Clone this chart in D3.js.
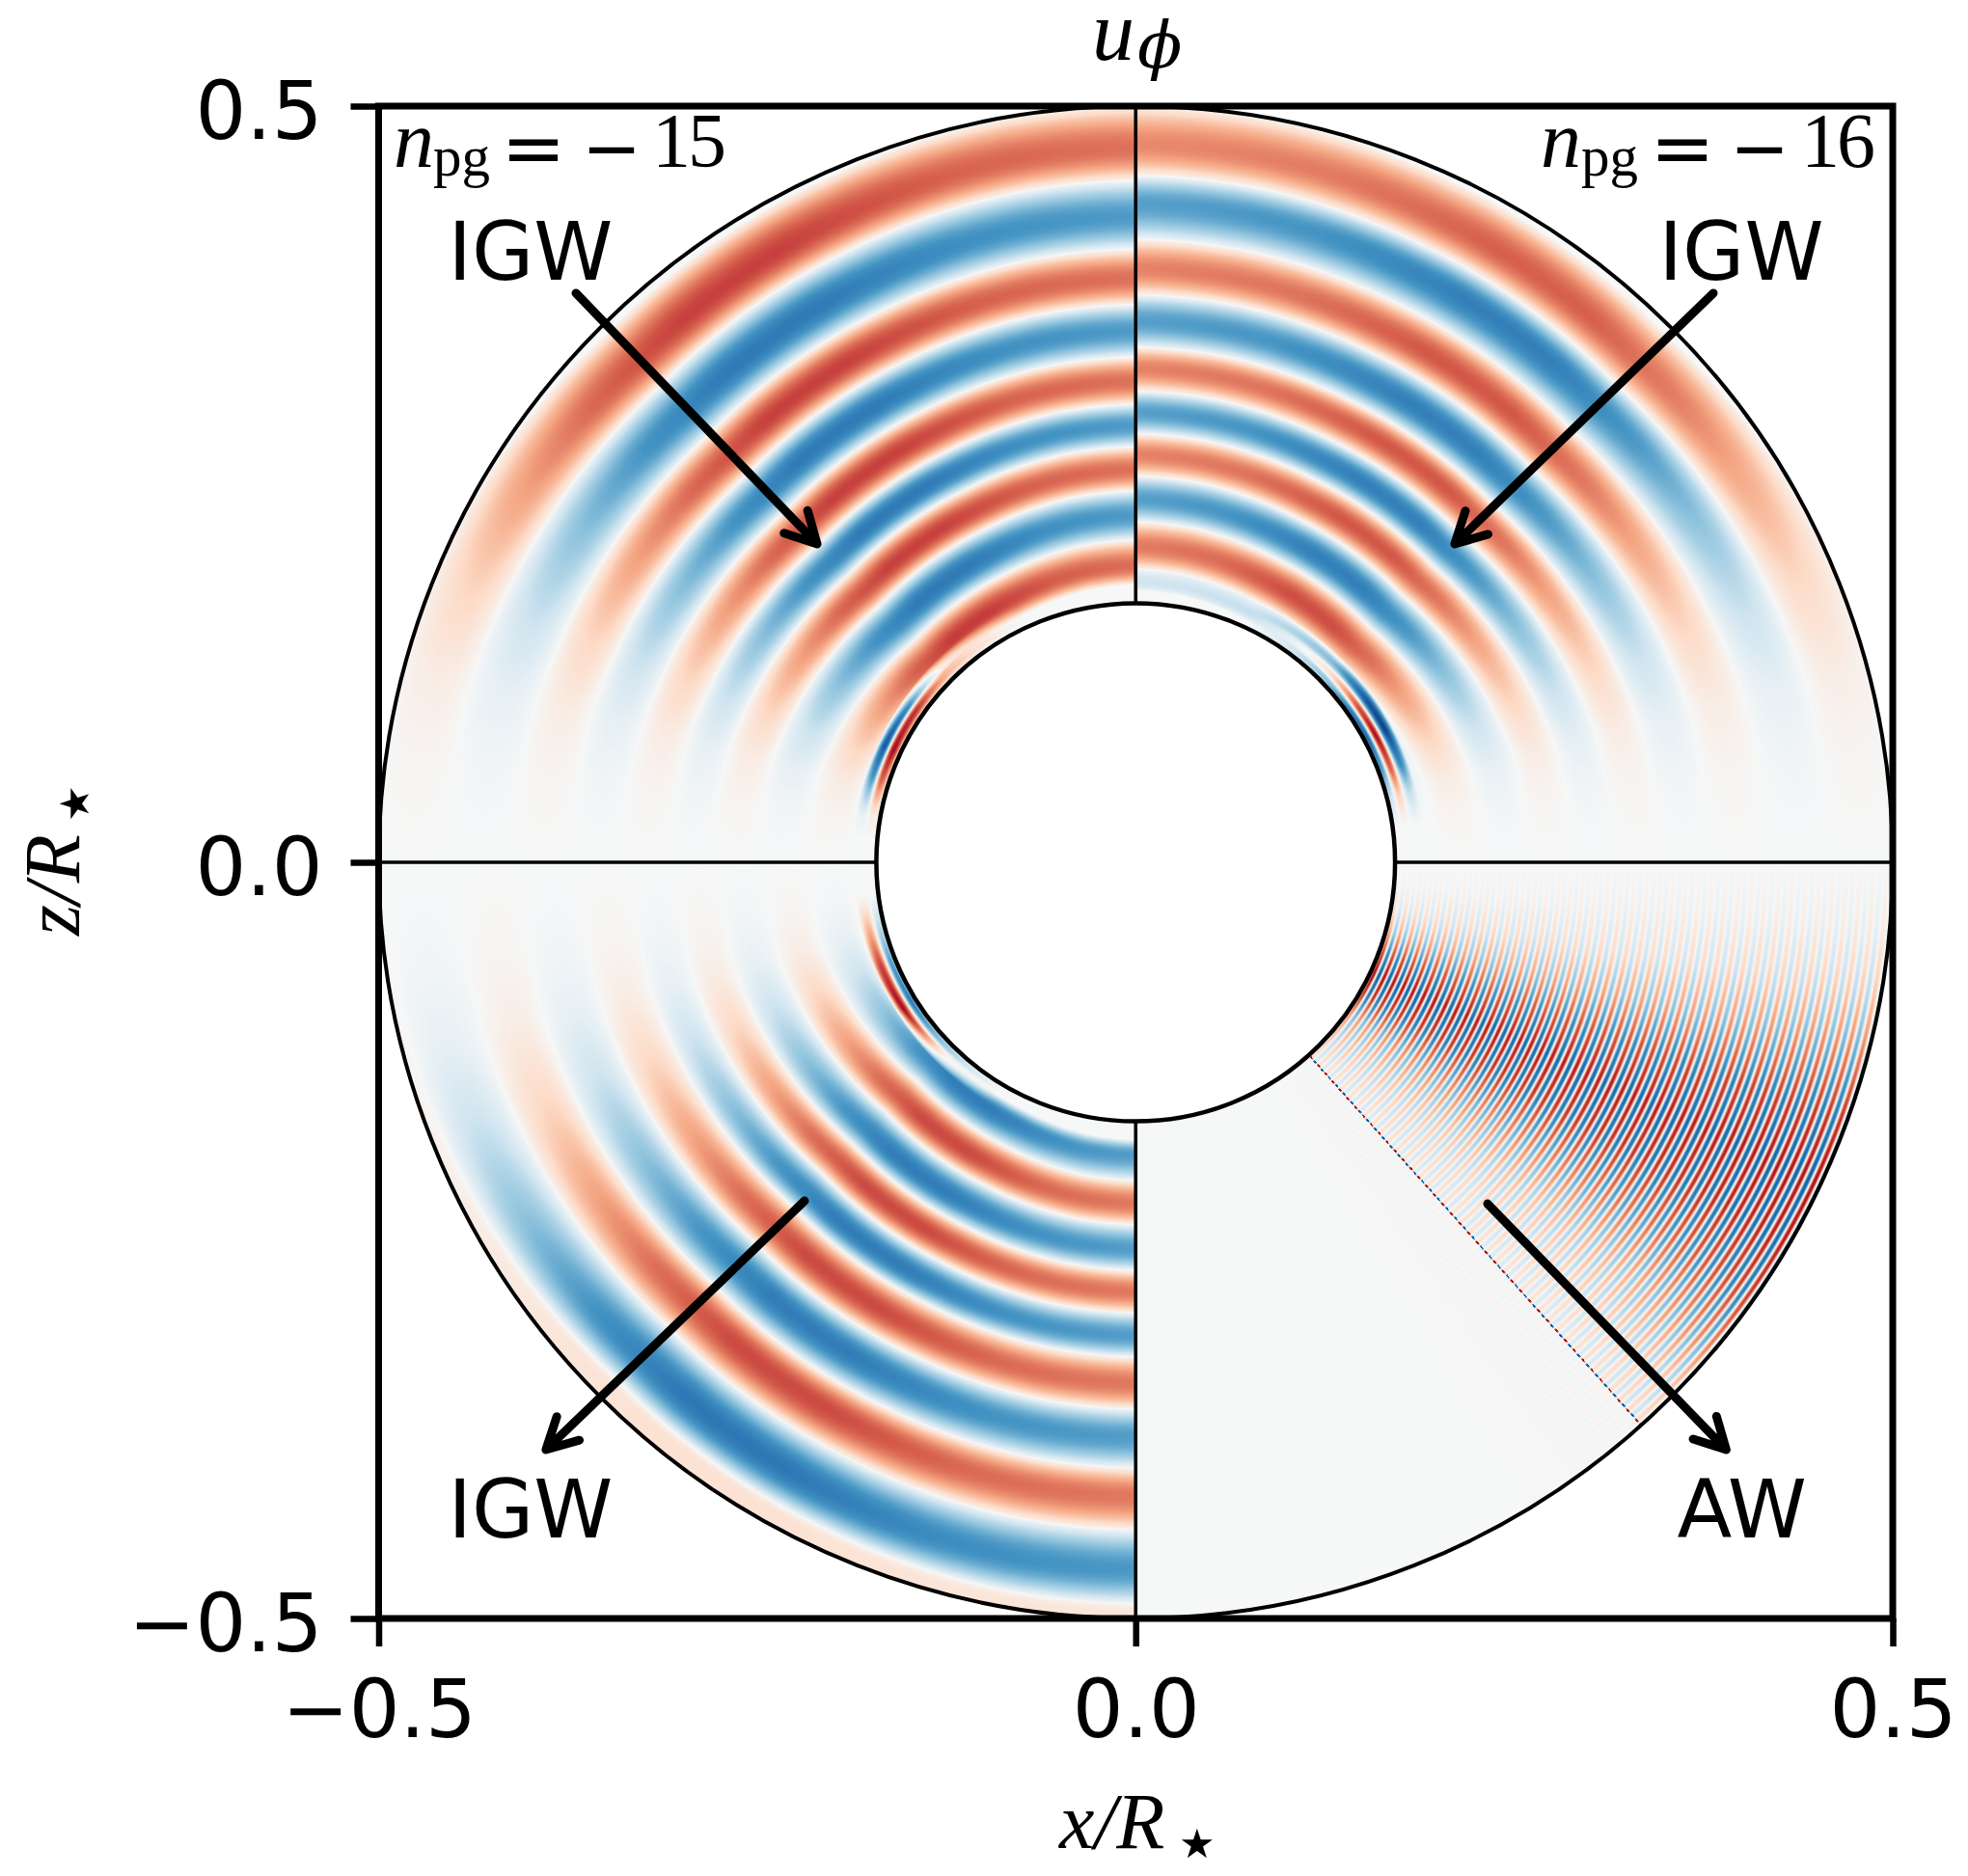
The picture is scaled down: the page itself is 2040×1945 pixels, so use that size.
<!DOCTYPE html>
<html>
<head>
<meta charset="utf-8">
<script src="https://cdn.jsdelivr.net/npm/d3@7"></script>
<style>
  html, body { margin: 0; padding: 0; background: #fff; }
  #wrap { position: relative; width: 2040px; height: 1945px; }
  #field, #chart { position: absolute; left: 0; top: 0; }
</style>
</head>
<body>
<div id="wrap">
  <canvas id="field" width="2040" height="1945"></canvas>
  <svg id="chart" width="2040" height="1945"></svg>
</div>
<script>
// tick labels
var xTicks = [-0.5, 0, 0.5];
var zTicks = [-0.5, 0, 0.5];

var innerRadius = 0.1713;
var outerRadius = 0.5;

// radial profile of u_phi read along the z axis: radius, value
var upperLeftR = [0.1713, 0.1825, 0.1835, 0.1959, 0.2132, 0.2294, 0.2456, 0.2596, 0.2748, 0.2888, 0.3028, 0.3180, 0.3341, 0.3514, 0.3687, 0.3860, 0.4054, 0.4270, 0.4507, 0.4723, 0.5005];
var upperLeftU = [0, 0, 0, 0.56, 0, -0.57, 0, 0.55, 0, -0.57, 0, 0.55, 0, -0.57, 0, 0.55, 0, -0.57, 0, 0.55, 0];

var upperRightR = [0.1713, 0.1797, 0.1852, 0.1938, 0.2089, 0.2251, 0.2402, 0.2553, 0.2694, 0.2834, 0.2975, 0.3115, 0.3266, 0.3406, 0.3579, 0.3752, 0.3924, 0.4119, 0.4356, 0.4540, 0.4745, 0.5005];
var upperRightU = [0, 0, -0.20, 0, 0.52, 0, -0.55, 0, 0.50, 0, -0.55, 0, 0.50, 0, -0.55, 0, 0.50, 0, -0.55, 0, 0.48, 0];

var lowerLeftR = [0.1713, 0.1835, 0.1932, 0.2105, 0.2256, 0.2397, 0.2558, 0.2699, 0.2839, 0.2980, 0.3131, 0.3271, 0.3444, 0.3616, 0.3800, 0.4005, 0.4189, 0.4415, 0.4675, 0.4901, 0.4966, 0.5005];
var lowerLeftU = [0, 0, -0.56, 0, 0.53, 0, -0.56, 0, 0.53, 0, -0.56, 0, 0.53, 0, -0.56, 0, 0.53, 0, -0.58, 0, 0.12, 0.12];

// how the rings fade and drift away from the z axis
var ringAngle = [0, 15, 30, 40, 50, 60, 68, 75, 82, 90];
var ringGain = [1, 1.08, 1.25, 1.25, 1.05, 0.70, 0.38, 0.15, 0.04, 0];
var driftAngle = [0, 10, 25, 45, 60, 75, 90];
var driftR = [0, -0.001, -0.004, -0.006, -0.001, 0.004, 0.005];

// thin layers hugging the inner circle
var shearLeftR = [0.172, 0.1765, 0.1795, 0.1825, 0.1875];
var shearLeftU = [0, 0.85, 0, -0.85, 0];
var shearLeftAngle = [25, 35, 45, 55, 65, 72, 80, 85];
var shearLeftGain = [0, 0.15, 0.40, 0.85, 1, 0.70, 0.10, 0];

var shearRightR = [0.1715, 0.1735, 0.1765, 0.1795, 0.1825, 0.1865, 0.1915];
var shearRightU = [0, -0.80, 0, 0.85, 0, -0.80, 0];
var shearRightAngle = [25, 35, 45, 55, 62, 70, 76, 82];
var shearRightGain = [0, 0.20, 0.45, 0.90, 1, 0.70, 0.25, 0];

var shearLowR = [0.1715, 0.1745, 0.1775, 0.1815, 0.1865];
var shearLowU = [0, -0.70, 0, 0.85, 0];
var shearLowAngle = [30, 40, 50, 58, 68, 76, 83];
var shearLowGain = [0, 0.30, 0.70, 1, 0.80, 0.40, 0];

// Alfven wave quadrant: stripe count against radius and amplitude table
var awStripeR = [0.172, 0.204, 0.299, 0.382, 0.5];
var awStripeN = [0, 4.5, 16.7, 26.4, 39.75];
var awCutAngle = 41.9;
var awAngle = [0, 30, 41.8, 42.1, 46, 50, 55, 60, 65, 70, 75, 80, 85, 90];
var awRows = [0.172, 0.25, 0.35, 0.42, 0.5];
var awAmp172 = [0, 0, 0.03, 0.13, 0.22, 0.30, 0.44, 0.72, 0.85, 0.66, 0.36, 0.14, 0.03, 0];
var awAmp250 = [0, 0, 0.03, 0.13, 0.20, 0.30, 0.49, 0.72, 0.81, 0.62, 0.36, 0.16, 0.04, 0];
var awAmp350 = [0, 0, 0.03, 0.13, 0.20, 0.30, 0.53, 0.74, 0.81, 0.66, 0.40, 0.18, 0.06, 0];
var awAmp420 = [0, 0, 0.03, 0.13, 0.22, 0.35, 0.57, 0.75, 0.81, 0.70, 0.45, 0.22, 0.07, 0];
var awAmp500 = [0, 0, 0.03, 0.19, 0.30, 0.52, 0.72, 0.81, 0.85, 0.74, 0.53, 0.28, 0.09, 0];
var awAmps = [awAmp172, awAmp250, awAmp350, awAmp420, awAmp500];

// RdBu_r stops, low to high
var rdbuStops = ["#053061", "#2166ac", "#4393c3", "#92c5de", "#d1e5f0", "#f6f7f7", "#fddbc7", "#f4a582", "#d6604d", "#b2182b", "#67001f"];

// annotations: label, arrow tail and tip in data units
var arrowLabels = ["IGW", "IGW", "IGW", "AW"];
var labelX = [-0.3997, 0.4000, -0.3997, 0.4004];
var labelZ = [0.3852, 0.3852, -0.4464, -0.4464];
var tailX = [-0.3697, 0.3815, -0.2187, 0.2324];
var tailZ = [0.3763, 0.3763, -0.2239, -0.2258];
var tipX = [-0.2104, 0.2107, -0.3895, 0.3900];
var tipZ = [0.2105, 0.2105, -0.3884, -0.3884];

var x = d3.scaleLinear().domain([-0.5, 0.5]).range([392.5, 1962]);
var z = d3.scaleLinear().domain([-0.5, 0.5]).range([1678, 110]);

var colorStops = d3.scaleLinear()
    .domain(d3.range(11).map(function(i) { return -1 + i * 0.2; }))
    .range(rdbuStops);
var lut = d3.range(1025).map(function(i) {
  var c = d3.rgb(colorStops(i / 512 - 1));
  return [c.r, c.g, c.b];
});

// profile as a scale from radius to node position, rounded between a zero and a peak
function profile(rs, us) {
  var pos = d3.scaleLinear().domain(rs).range(d3.range(rs.length)).clamp(true);
  return function(r) {
    var p = pos(r);
    var i = Math.min(Math.floor(p), rs.length - 2);
    var t = p - i, a = us[i], b = us[i + 1];
    if (a === 0 && b === 0) return 0;
    if (a === 0) return b * Math.pow(Math.sin(t * Math.PI / 2), 0.8);
    if (b === 0) return a * Math.pow(Math.cos(t * Math.PI / 2), 0.8);
    return a + (b - a) * t;
  };
}

function gain(angles, values) {
  return d3.scaleLinear().domain(angles).range(values).clamp(true);
}

var upperLeft = profile(upperLeftR, upperLeftU);
var upperRight = profile(upperRightR, upperRightU);
var lowerLeft = profile(lowerLeftR, lowerLeftU);
var shearLeft = profile(shearLeftR, shearLeftU);
var shearRight = profile(shearRightR, shearRightU);
var shearLow = profile(shearLowR, shearLowU);
var ring = gain(ringAngle, ringGain);
var drift = gain(driftAngle, driftR);
var shearLeftEnv = gain(shearLeftAngle, shearLeftGain);
var shearRightEnv = gain(shearRightAngle, shearRightGain);
var shearLowEnv = gain(shearLowAngle, shearLowGain);

var stripes = d3.scaleLinear().domain(awStripeR).range(awStripeN).clamp(true);
var awRowPos = d3.scaleLinear().domain(awRows).range(d3.range(awRows.length)).clamp(true);
var awRowScales = awAmps.map(function(row) { return gain(awAngle, row); });

function fieldValue(px, pz, r, angle) {
  if (pz >= 0) {
    var shift = r - drift(angle);
    if (px < 0) return upperLeft(shift) * ring(angle) + shearLeft(r) * shearLeftEnv(angle);
    return upperRight(shift) * ring(angle) + shearRight(r) * shearRightEnv(angle);
  }
  if (px < 0) {
    return lowerLeft(r - drift(angle)) * ring(angle) + shearLow(r) * shearLowEnv(angle);
  }
  var n = stripes(r);
  // bright thread along the edge of the wave region
  var dist = Math.abs(angle - awCutAngle) * Math.PI / 180 * r * 1570;
  if (dist < 1) return 0.9 * Math.sin(2 * Math.PI * n);
  var q = awRowPos(r);
  var k = Math.min(Math.floor(q), awRows.length - 2);
  var amp = awRowScales[k](angle) * (1 - q + k) + awRowScales[k + 1](angle) * (q - k);
  return amp * Math.sin(2 * Math.PI * n);
}

var canvas = document.getElementById("field");
var ctx = canvas.getContext("2d");
var image = ctx.createImageData(canvas.width, canvas.height);
for (var py = Math.floor(z(0.5)); py <= Math.ceil(z(-0.5)); py++) {
  for (var px = Math.floor(x(-0.5)); px <= Math.ceil(x(0.5)); px++) {
    var dx = x.invert(px + 0.5), dz = z.invert(py + 0.5);
    var r = Math.sqrt(dx * dx + dz * dz);
    if (r > outerRadius || r < innerRadius) continue;
    var angle = Math.atan2(Math.abs(dx), Math.abs(dz)) * 180 / Math.PI;
    var v = fieldValue(dx, dz, r, angle);
    var c = lut[Math.max(0, Math.min(1024, Math.round((v + 1) * 512)))];
    var o = (py * canvas.width + px) * 4;
    image.data[o] = c[0];
    image.data[o + 1] = c[1];
    image.data[o + 2] = c[2];
    image.data[o + 3] = 255;
  }
}
ctx.putImageData(image, 0, 0);

var svg = d3.select("#chart");
var sans = "'DejaVu Sans', sans-serif";
var serif = "'Liberation Serif', serif";

// circles and the quadrant dividers
svg.append("ellipse")
    .attr("cx", x(0)).attr("cy", z(0))
    .attr("rx", x(outerRadius) - x(0)).attr("ry", z(0) - z(outerRadius))
    .attr("fill", "none").attr("stroke", "#000").attr("stroke-width", 4);
svg.append("ellipse")
    .attr("cx", x(0)).attr("cy", z(0))
    .attr("rx", x(innerRadius) - x(0)).attr("ry", z(0) - z(innerRadius))
    .attr("fill", "none").attr("stroke", "#000").attr("stroke-width", 4.5);
[[0, innerRadius, 0, outerRadius], [0, -innerRadius, 0, -outerRadius],
 [-innerRadius, 0, -outerRadius, 0], [innerRadius, 0, outerRadius, 0]].forEach(function(d) {
  svg.append("line")
      .attr("x1", x(d[0])).attr("y1", z(d[1]))
      .attr("x2", x(d[2])).attr("y2", z(d[3]))
      .attr("stroke", "#000").attr("stroke-width", 3.6);
});

// axes
var xAxis = d3.axisBottom(x).tickValues(xTicks).tickFormat(d3.format(".1f")).tickSize(29).tickPadding(35);
var zAxis = d3.axisLeft(z).tickValues(zTicks).tickFormat(d3.format(".1f")).tickSize(29).tickPadding(29);
var gx = svg.append("g").attr("transform", "translate(0," + z(-0.5) + ")").call(xAxis);
var gz = svg.append("g").attr("transform", "translate(" + x(-0.5) + ",0)").call(zAxis);
gx.select(".domain").remove();
gz.select(".domain").remove();
svg.selectAll(".tick line").attr("stroke", "#000").attr("stroke-width", 6.5);
svg.selectAll(".tick text")
    .attr("font-family", sans).attr("font-size", 83).attr("fill", "#000");
gz.selectAll(".tick text").attr("dy", "0.4em");

svg.append("rect")
    .attr("x", x(-0.5)).attr("y", z(0.5))
    .attr("width", x(0.5) - x(-0.5)).attr("height", z(-0.5) - z(0.5))
    .attr("fill", "none").attr("stroke", "#000").attr("stroke-width", 7);

// arrows
arrowLabels.forEach(function(label, i) {
  var x0 = x(tailX[i]), y0 = z(tailZ[i]), x1 = x(tipX[i]), y1 = z(tipZ[i]);
  var dir = Math.atan2(y0 - y1, x0 - x1);
  var spread = 28 * Math.PI / 180, len = 36;
  var line = d3.path();
  line.moveTo(x0, y0);
  line.lineTo(x1, y1);
  line.moveTo(x1 + len * Math.cos(dir - spread), y1 + len * Math.sin(dir - spread));
  line.lineTo(x1, y1);
  line.lineTo(x1 + len * Math.cos(dir + spread), y1 + len * Math.sin(dir + spread));
  svg.append("path")
      .attr("d", line.toString())
      .attr("fill", "none").attr("stroke", "#000").attr("stroke-width", 9)
      .attr("stroke-linecap", "round").attr("stroke-linejoin", "round");
  svg.append("text")
      .attr("x", x(labelX[i])).attr("y", z(labelZ[i]))
      .attr("text-anchor", "middle")
      .attr("font-family", sans).attr("font-size", 83).attr("fill", "#000")
      .text(label);
});

// math pieces placed one by one, as a math renderer would
function piece(parent, str, px, py, size, family, style) {
  return parent.append("text")
      .attr("x", px).attr("y", py)
      .attr("font-family", family).attr("font-size", size)
      .attr("font-style", style || "normal").attr("fill", "#000")
      .text(str);
}

function modeLabel(nx, pgx, eqx, minusx, digitx, digits) {
  piece(svg, "n", nx, 173, 84, serif, "italic");
  piece(svg, "pg", pgx, 182, 59, serif);
  piece(svg, "=", eqx, 181, 80, sans);
  piece(svg, "\u2212", minusx, 179, 74, sans);
  piece(svg, digits, digitx, 173, 80, serif).attr("letter-spacing", "-3px");
}
modeLabel(408, 449, 519.5, 603, 676, "15");
modeLabel(1597, 1639, 1710.5, 1793, 1867, "16");

// title and axis labels
piece(svg, "u", 1132, 62, 88, serif, "italic");
piece(svg, "\u03d5", 1179, 70, 68, "'DejaVu Serif', serif", "italic");

piece(svg, "x/R", 1098, 1916, 82, serif, "italic");
piece(svg, "\u2605", 1222, 1926, 42, sans);

var ylab = svg.append("g").attr("transform", "translate(82,970) rotate(-90)");
piece(ylab, "z/R", 0, 0, 82, serif, "italic");
piece(ylab, "\u2605", 118, 10, 42, sans);
</script>
</body>
</html>
